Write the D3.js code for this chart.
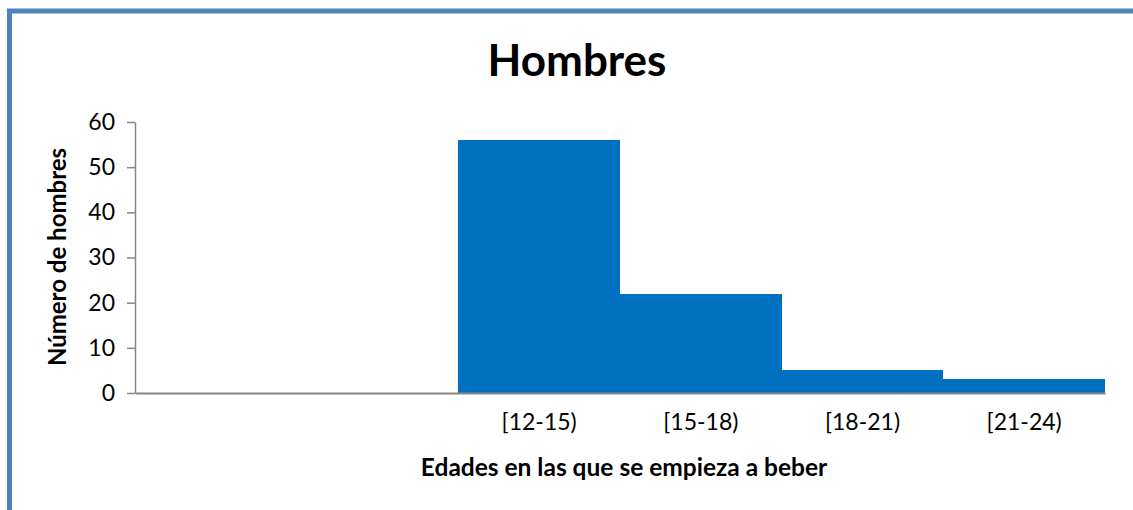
<!DOCTYPE html>
<html>
<head>
<meta charset="utf-8">
<script src="https://cdn.jsdelivr.net/npm/d3@7"></script>
<style>
  html, body { margin: 0; background: #fff; overflow: hidden; }
  svg { display: block; }
</style>
</head>
<body>
<div id="plot"></div>
<script>
// age bins (two empty leading bins are kept so the bars sit on the right)
const categories = ["", " ", "[12-15)", "[15-18)", "[18-21)", "[21-24)"];
const values = [0, 0, 56, 22, 5, 3];
const yTicks = [0, 10, 20, 30, 40, 50, 60];

const width = 1133,
      height = 510;
const margin = { left: 135, right: 28, top: 122, bottom: 117 };

const svg = d3.select("#plot")
  .append("svg")
    .attr("width", width)
    .attr("height", height);

svg.append("rect")
    .attr("width", width)
    .attr("height", height)
    .attr("fill", "#fff");

// chart frame, only its top and left edges are inside the picture
svg.append("path")
    .attr("d", "M9.5," + (height + 10) + "V11H" + (width + 10))
    .attr("fill", "none")
    .attr("stroke", "#4f81bd")
    .attr("stroke-width", 5);

const x = d3.scaleBand()
  .domain(categories)
  .range([margin.left, width - margin.right])
  .paddingInner(0)
  .paddingOuter(0);

const y = d3.scaleLinear()
  .domain([0, 60])
  .range([height - margin.bottom, margin.top]);

const font = "Lato, 'Open Sans', sans-serif";

svg.append("g")
  .selectAll("rect")
  .data(values)
  .enter().append("rect")
    .attr("x", function(d, i) { return Math.round(x(categories[i])); })
    .attr("y", function(d) { return y(d); })
    .attr("width", function(d, i) { return Math.round(x(categories[i]) + x.bandwidth()) - Math.round(x(categories[i])); })
    .attr("height", function(d) { return y(0) - y(d); })
    .attr("fill", "#0070c0")
    .attr("shape-rendering", "crispEdges");

// y axis
const yAxis = svg.append("g")
    .attr("transform", "translate(" + margin.left + ",0)")
    .call(d3.axisLeft(y).tickValues(yTicks).tickSize(8).tickSizeOuter(0).tickPadding(12));
yAxis.select(".domain").attr("stroke", "#868686").attr("stroke-width", 1.5);
yAxis.selectAll(".tick line").attr("stroke", "#868686").attr("stroke-width", 1.5);
yAxis.selectAll(".tick text")
    .style("font-family", font)
    .style("font-size", "23px")
    .attr("fill", "#000");

// x axis (no tick marks)
const xAxis = svg.append("g")
    .attr("transform", "translate(0," + y(0) + ")")
    .call(d3.axisBottom(x).tickSize(0).tickPadding(21));
xAxis.select(".domain").attr("stroke", "#868686").attr("stroke-width", 2);
xAxis.selectAll(".tick text")
    .style("font-family", font)
    .style("font-size", "23px")
    .attr("fill", "#000");

svg.append("text")
    .attr("x", 577)
    .attr("y", 76)
    .attr("text-anchor", "middle")
    .style("font-family", font)
    .style("font-weight", "bold")
    .style("font-size", "44px")
    .text("Hombres");

svg.append("text")
    .attr("x", 624)
    .attr("y", 476)
    .attr("text-anchor", "middle")
    .style("font-family", font)
    .style("font-weight", "bold")
    .style("font-size", "24.5px")
    .text("Edades en las que se empieza a beber");

svg.append("text")
    .attr("transform", "translate(66,257) rotate(-90)")
    .attr("text-anchor", "middle")
    .style("font-family", font)
    .style("font-weight", "bold")
    .style("font-size", "24px")
    .text("Número de hombres");
</script>
</body>
</html>
